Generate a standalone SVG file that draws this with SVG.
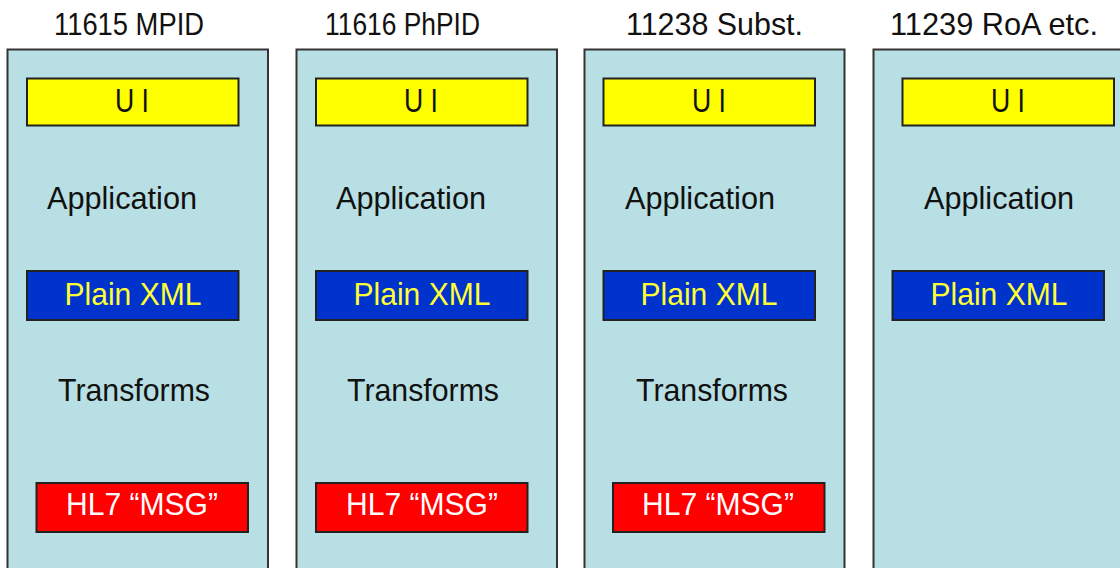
<svg xmlns="http://www.w3.org/2000/svg" width="1120" height="568" viewBox="0 0 1120 568">
<style>
text{font-family:"Liberation Sans",Arial,sans-serif;text-anchor:middle}
.col{fill:#b8dfe3;stroke:#333;stroke-width:2}
.ui{fill:#ffff00;stroke:#222;stroke-width:2}
.xml{fill:#0033cc;stroke:#222;stroke-width:2}
.hl7{fill:#ff0000;stroke:#222;stroke-width:2}
.title{font-size:32px;fill:#111}
.lbl{font-size:32px;fill:#111}
.uit{font-size:34px;fill:#111}
.xmlt{font-size:32px;fill:#ffff33}
.hl7t{font-size:32px;fill:#fff}
</style>
<rect width="1120" height="568" fill="#fff"/>
<g id="col1">
<text class="title" x="129" y="35" textLength="150" lengthAdjust="spacingAndGlyphs">11615 MPID</text>
<rect class="col" x="7.5" y="49.5" width="260.5" height="530"/>
<rect class="ui" x="27" y="78.5" width="211.5" height="47"/>
<text class="uit" x="132" y="112" textLength="34" lengthAdjust="spacingAndGlyphs">U I</text>
<text class="lbl" x="122" y="209" textLength="150" lengthAdjust="spacingAndGlyphs">Application</text>
<rect class="xml" x="27" y="271" width="211.5" height="49"/>
<text class="xmlt" x="133" y="305" textLength="137" lengthAdjust="spacingAndGlyphs">Plain XML</text>
<text class="lbl" x="134" y="401" textLength="152" lengthAdjust="spacingAndGlyphs">Transforms</text>
<rect class="hl7" x="36.5" y="483" width="211.5" height="49"/>
<text class="hl7t" x="142" y="515" textLength="152" lengthAdjust="spacingAndGlyphs">HL7 “MSG”</text>
</g>
<g id="col2">
<text class="title" x="402.5" y="35" textLength="155" lengthAdjust="spacingAndGlyphs">11616 PhPID</text>
<rect class="col" x="296.5" y="49.5" width="260.5" height="530"/>
<rect class="ui" x="316" y="78.5" width="211.5" height="47"/>
<text class="uit" x="421" y="112" textLength="34" lengthAdjust="spacingAndGlyphs">U I</text>
<text class="lbl" x="411" y="209" textLength="150" lengthAdjust="spacingAndGlyphs">Application</text>
<rect class="xml" x="316" y="271" width="211.5" height="49"/>
<text class="xmlt" x="422" y="305" textLength="137" lengthAdjust="spacingAndGlyphs">Plain XML</text>
<text class="lbl" x="423" y="401" textLength="152" lengthAdjust="spacingAndGlyphs">Transforms</text>
<rect class="hl7" x="316" y="483" width="211.5" height="49"/>
<text class="hl7t" x="422" y="515" textLength="152" lengthAdjust="spacingAndGlyphs">HL7 “MSG”</text>
</g>
<g id="col3">
<text class="title" x="714.5" y="35" textLength="177" lengthAdjust="spacingAndGlyphs">11238 Subst.</text>
<rect class="col" x="584.5" y="49.5" width="260" height="530"/>
<rect class="ui" x="603.5" y="78.5" width="211.5" height="47"/>
<text class="uit" x="709" y="112" textLength="34" lengthAdjust="spacingAndGlyphs">U I</text>
<text class="lbl" x="700" y="209" textLength="150" lengthAdjust="spacingAndGlyphs">Application</text>
<rect class="xml" x="603.5" y="271" width="211.5" height="49"/>
<text class="xmlt" x="709" y="305" textLength="137" lengthAdjust="spacingAndGlyphs">Plain XML</text>
<text class="lbl" x="712" y="401" textLength="152" lengthAdjust="spacingAndGlyphs">Transforms</text>
<rect class="hl7" x="613" y="483" width="211.5" height="49"/>
<text class="hl7t" x="718" y="515" textLength="152" lengthAdjust="spacingAndGlyphs">HL7 “MSG”</text>
</g>
<g id="col4">
<text class="title" x="994" y="35" textLength="208" lengthAdjust="spacingAndGlyphs">11239 RoA etc.</text>
<rect class="col" x="873.5" y="49.5" width="270" height="530"/>
<rect class="ui" x="902.5" y="78.5" width="211.5" height="47"/>
<text class="uit" x="1008" y="112" textLength="34" lengthAdjust="spacingAndGlyphs">U I</text>
<text class="lbl" x="999" y="209" textLength="150" lengthAdjust="spacingAndGlyphs">Application</text>
<rect class="xml" x="892.5" y="271" width="211.5" height="49"/>
<text class="xmlt" x="999" y="305" textLength="137" lengthAdjust="spacingAndGlyphs">Plain XML</text>
</g>
<g id="connectors"/>
</svg>
